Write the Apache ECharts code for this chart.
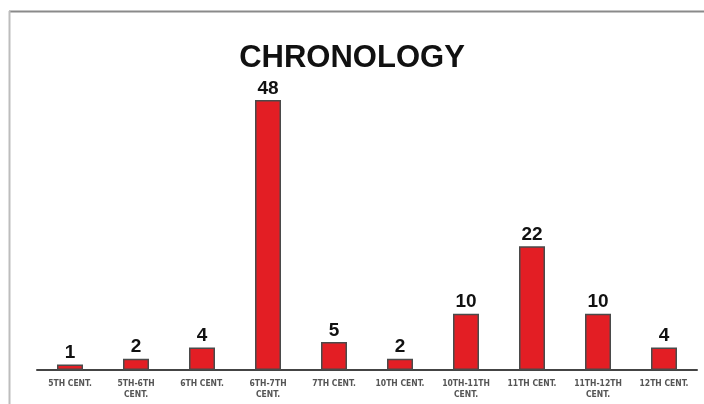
<!DOCTYPE html>
<html><head><meta charset="utf-8">
<script src="https://cdn.jsdelivr.net/npm/echarts@6/dist/echarts.min.js"></script>
<style>html,body{margin:0;padding:0;background:#fff}#c{width:704px;height:404px}</style>
</head><body><div id="c"></div>
<script>
const categories = ['5TH CENT.', '5TH-6TH\nCENT.', '6TH CENT.', '6TH-7TH\nCENT.', '7TH CENT.', '10TH CENT.', '10TH-11TH\nCENT.', '11TH CENT.', '11TH-12TH\nCENT.', '12TH CENT.'];
const counts = [1, 2, 4, 48, 5, 2, 10, 22, 10, 4];
const titleText = 'CHRONOLOGY';

const chart = echarts.init(document.getElementById('c'), null, {renderer: 'canvas'});
chart.setOption({
  backgroundColor: '#fff',
  animation: false,
  title: {
    text: titleText, left: 'center', top: 38,
    textStyle: {fontFamily: 'Liberation Sans, Arial, sans-serif', fontWeight: 'bold', fontSize: 31, color: '#111'}
  },
  graphic: [
    {type: 'line', shape: {x1: 9, y1: 11.5, x2: 704, y2: 11.5}, style: {stroke: '#8a8a8a', lineWidth: 2}},
    {type: 'line', shape: {x1: 9.5, y1: 11, x2: 9.5, y2: 404}, style: {stroke: '#bdbdbd', lineWidth: 2}}
  ],
  grid: {left: 37, right: 7, top: 100, bottom: 34},
  xAxis: {
    type: 'category', data: categories,
    axisLine: {lineStyle: {color: '#444', width: 2}},
    axisTick: {show: false},
    axisLabel: {interval: 0, margin: 8, fontSize: 8.5, fontWeight: 'bold', color: '#555', lineHeight: 11,
      fontFamily: 'Liberation Sans Narrow, DejaVu Sans Condensed, sans-serif'}
  },
  yAxis: {type: 'value', min: 0, max: 48, show: false, splitLine: {show: false}},
  series: [{
    type: 'bar', data: counts, barWidth: 26,
    itemStyle: {color: '#e31e24', borderColor: '#4a4a4a', borderWidth: 1.5},
    label: {show: true, position: 'top', distance: 2, fontSize: 19, fontWeight: 'bold', color: '#111',
      fontFamily: 'Liberation Sans, Arial, sans-serif'}
  }]
});
</script></body></html>
